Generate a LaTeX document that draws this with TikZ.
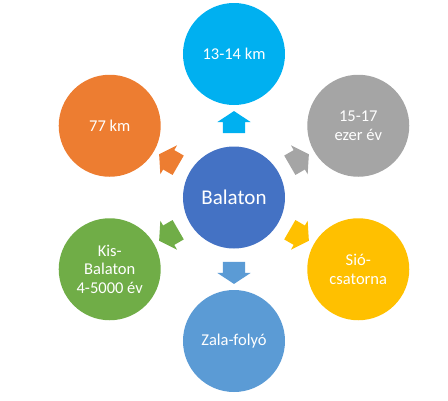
\documentclass[tikz,border=0pt]{standalone}
\usepackage{fontspec}
\setmainfont{Carlito}
\usetikzlibrary{shapes.arrows,calc}
\definecolor{balHub}{HTML}{4472C4}
\definecolor{balCyan}{HTML}{00B0F0}
\definecolor{balGray}{HTML}{A5A5A5}
\definecolor{balGold}{HTML}{FFC000}
\definecolor{balBlue}{HTML}{5B9BD5}
\definecolor{balGreen}{HTML}{70AD47}
\definecolor{balOrange}{HTML}{ED7D31}

\begin{document}
\begin{tikzpicture}[x=1pt,y=1pt,
      hub/.style={circle,fill=balHub,minimum size=102pt,inner sep=0pt,text=white,font=\fontsize{21}{25}\selectfont},
      leaf/.style={circle,minimum size=102pt,inner sep=0pt,text=white,align=center,font=\fontsize{16.5}{18.3}\selectfont},
      dir/.style={single arrow,minimum height=22pt,single arrow head extend=5.5pt,single arrow tip angle=113,inner sep=0pt}]
    \useasboundingbox (-234,-202.5) rectangle (214,197.5);
    \node[hub] (bal) at (0,0) {Balaton};
    \foreach \ang/\nm/\col/\txt in {90/len/balCyan/{13-14 km},30/age/balGray/{15-17\\ezer év},
        -30/sio/balGold/{Sió-\\csatorna},-90/zala/balBlue/{Zala-folyó},
        -150/kis/balGreen/{Kis-\\Balaton\\4-5000 év},150/wid/balOrange/{77 km}}{
      \node[leaf,fill=\col] (\nm) at (\ang:143.5) {\txt};
      \node[dir,fill=\col,rotate=\ang] (arr-\nm) at ($(bal)!0.5!(\nm)$) {\rule{0pt}{22pt}};
    }
  \end{tikzpicture}
\end{document}
